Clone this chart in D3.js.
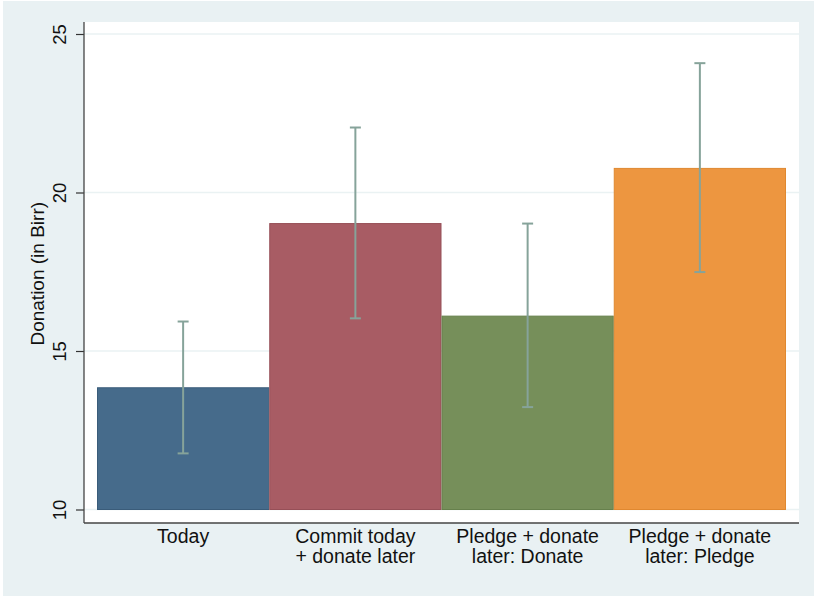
<!DOCTYPE html>
<html>
<head>
<meta charset="utf-8">
<script src="https://cdn.jsdelivr.net/npm/d3@7"></script>
<style>
  html, body { margin: 0; padding: 0; background: #ffffff; }
  svg { display: block; font-family: "Liberation Sans", Arial, Helvetica, sans-serif; }
</style>
</head>
<body>
<svg id="chart" width="814" height="596"></svg>
<script>
// Mean donation by treatment arm, with 95% confidence intervals
const categories = ["Today", "Commit today|+ donate later", "Pledge + donate|later: Donate", "Pledge + donate|later: Pledge"];
const means = [13.84, 19.02, 16.10, 20.76];
const ciLow = [11.77, 16.03, 13.23, 17.49];
const ciHigh = [15.93, 22.05, 19.02, 24.08];
const colors = ["#466b8b", "#a85c64", "#768f5a", "#ed9640"];
const strokes = ["#3a5c7a", "#964f57", "#66804c", "#e08830"];
const yTicks = [10, 15, 20, 25];

const svg = d3.select("#chart");
const W = 814, H = 596;

// outer graph region
svg.append("rect").attr("x", 3).attr("y", 1).attr("width", W - 3).attr("height", H - 1)
  .attr("fill", "#e9f1f3");

const plot = { left: 84, right: 799, top: 22, bottom: 523 };
svg.append("rect")
  .attr("x", plot.left).attr("y", plot.top)
  .attr("width", plot.right - plot.left).attr("height", plot.bottom - plot.top)
  .attr("fill", "#ffffff");

const x = d3.scaleBand()
  .domain(categories)
  .range([97, 786])
  .paddingInner(0).paddingOuter(0);

const y = d3.scaleLinear().domain([10, 25]).range([509.5, 34]);

// gridlines
svg.append("g").selectAll("line").data(yTicks).join("line")
  .attr("x1", plot.left).attr("x2", plot.right)
  .attr("y1", d => y(d)).attr("y2", d => y(d))
  .attr("stroke", "#eaf2f3").attr("stroke-width", 1.5);

// bars
svg.append("g").selectAll("rect").data(categories).join("rect")
  .attr("x", d => x(d) + 0.5)
  .attr("width", x.bandwidth() - 1)
  .attr("y", (d, i) => y(means[i]))
  .attr("height", (d, i) => y(10) - y(means[i]))
  .attr("fill", (d, i) => colors[i])
  .attr("stroke", (d, i) => strokes[i])
  .attr("stroke-width", 1);

// confidence interval whiskers
const ci = svg.append("g").attr("stroke", "#86a39a").attr("stroke-width", 2).attr("fill", "none");
categories.forEach((c, i) => {
  const cx = x(c) + x.bandwidth() / 2;
  ci.append("line").attr("x1", cx).attr("x2", cx).attr("y1", y(ciLow[i])).attr("y2", y(ciHigh[i]));
  ci.append("line").attr("x1", cx - 5.5).attr("x2", cx + 5.5).attr("y1", y(ciLow[i])).attr("y2", y(ciLow[i]));
  ci.append("line").attr("x1", cx - 5.5).attr("x2", cx + 5.5).attr("y1", y(ciHigh[i])).attr("y2", y(ciHigh[i]));
});

// y axis
const yAxis = d3.axisLeft(y).tickValues(yTicks).tickSize(8).tickPadding(10);
const gy = svg.append("g").attr("transform", `translate(${plot.left},0)`).call(yAxis);
gy.select(".domain").remove();
gy.selectAll(".tick line").attr("stroke", "#333").attr("stroke-width", 1.2);
gy.selectAll(".tick text")
  .attr("font-size", 18.5).attr("fill", "#111")
  .attr("text-anchor", "middle")
  .attr("x", 0).attr("y", 0).attr("dy", 0)
  .attr("transform", "translate(-18,0) rotate(-90)");
svg.append("line").attr("x1", plot.left).attr("x2", plot.left)
  .attr("y1", plot.top).attr("y2", plot.bottom).attr("stroke", "#444").attr("stroke-width", 1.3);

// x axis
svg.append("line").attr("x1", plot.left).attr("x2", plot.right)
  .attr("y1", plot.bottom).attr("y2", plot.bottom).attr("stroke", "#444").attr("stroke-width", 1.3);

const gx = svg.append("g");
categories.forEach(c => {
  const lines = c.split("|");
  const t = gx.append("text")
    .attr("x", x(c) + x.bandwidth() / 2)
    .attr("y", 543)
    .attr("text-anchor", "middle")
    .attr("font-size", 19.5)
    .attr("fill", "#111");
  lines.forEach((l, k) => {
    t.append("tspan").attr("x", x(c) + x.bandwidth() / 2).attr("dy", k === 0 ? 0 : 20).text(l);
  });
});

// y axis title
svg.append("text")
  .attr("transform", `translate(44,${(y(10) + y(25)) / 2 + 2}) rotate(-90)`)
  .attr("text-anchor", "middle")
  .attr("font-size", 19)
  .attr("fill", "#111")
  .text("Donation (in Birr)");
</script>
</body>
</html>
